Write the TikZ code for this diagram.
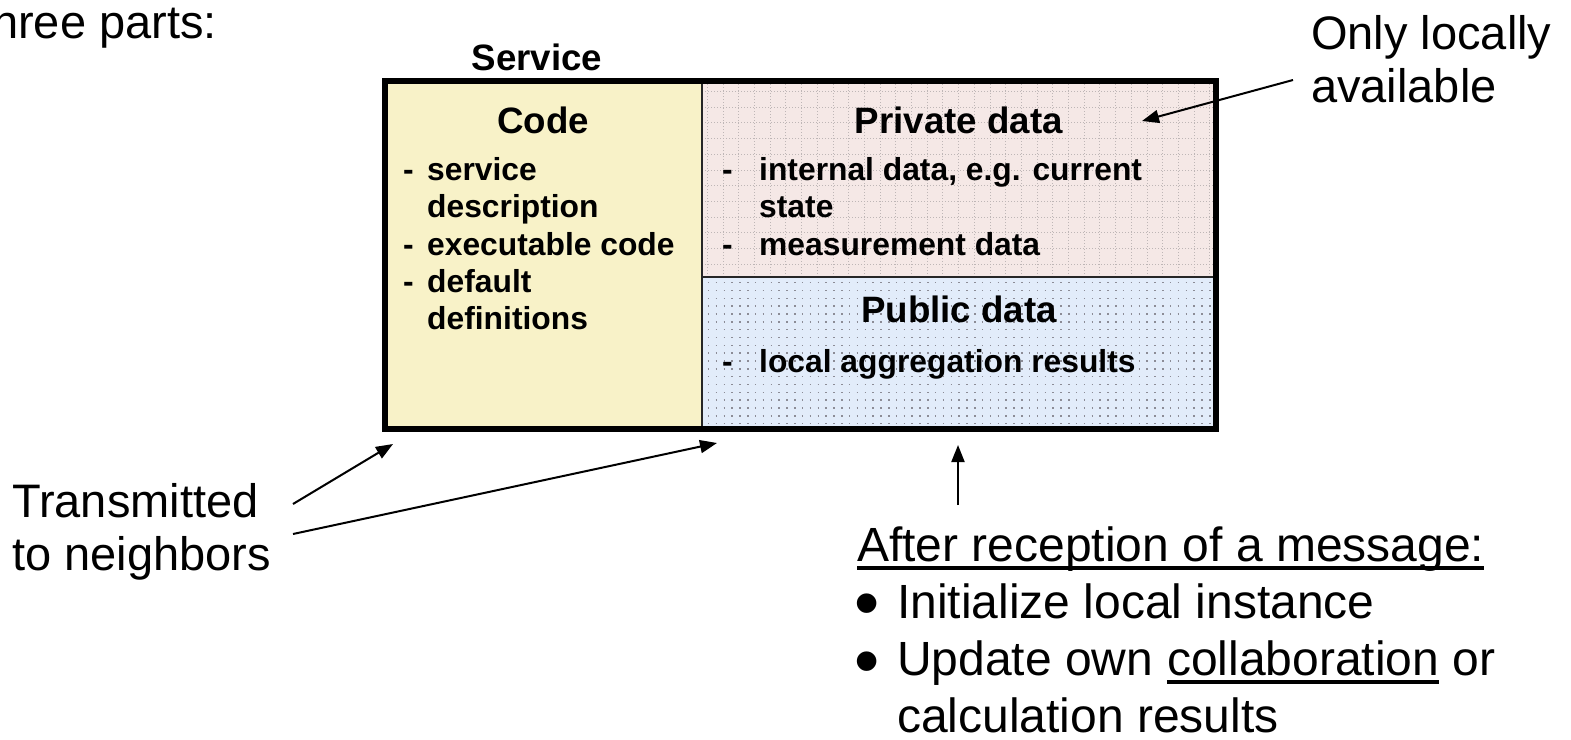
\documentclass[tikz,border=0pt]{standalone}
\usepackage{fontspec}
\setmainfont{Liberation Sans}
\usetikzlibrary{arrows.meta}

\definecolor{codeyellow}{RGB}{248,242,200}
\definecolor{privpink}{RGB}{245,232,230}
\definecolor{pubblue}{RGB}{226,236,250}
\definecolor{gridgray}{RGB}{190,182,182}
\definecolor{dotgray}{RGB}{140,140,150}

\tikzset{
  lbl/.style={inner sep=0pt, anchor=base west, font=\fontsize{47}{56}\selectfont},
  big/.style={inner sep=0pt, anchor=base west, font=\fontsize{48}{57}\selectfont},
  ttl/.style={inner sep=0pt, anchor=base, font=\bfseries\fontsize{36.7}{44}\selectfont},
  itm/.style={inner sep=0pt, anchor=base west, font=\bfseries\fontsize{31.8}{38}\selectfont},
  bul/.style={inner sep=0pt, font=\fontsize{72}{72}\selectfont},
  part/.style={inner sep=0pt, outer sep=0pt, anchor=north west},
  gridln/.style={draw=gridgray, line width=0.9pt, dash pattern=on 1pt off 2pt},
  dotrow/.style={draw=dotgray, line width=1.5pt, dash pattern=on 1.5pt off 6.33pt},
  arr/.style={line width=2pt, -{Triangle[length=17pt,width=13pt]}},
  uline/.style={line width=3.5pt}
}

\begin{document}
\begin{tikzpicture}[x=1pt, y=-1pt]
\useasboundingbox (0,0) rectangle (1571,739);

% heading fragment
\node[lbl] (hree) at (-8,38) {hree parts:};

% the three compartments of a service
\node[part, fill=codeyellow, minimum width=317pt, minimum height=347.5pt] (code) at (385,81) {};
\node[part, fill=privpink, minimum width=514pt, minimum height=196pt] (priv) at (702,81) {};
\node[part, fill=pubblue, minimum width=514pt, minimum height=151.5pt] (pub) at (702,277) {};

% dotted grid on the private part
\begin{scope}
  \clip (priv.north west) rectangle (priv.south east);
  \foreach \i in {0,...,33}
    \draw[gridln] ({707.4+15.7*\i},81) -- ++(0,196);
  \foreach \j in {0,...,12}
    \draw[gridln] (702,{91.5+15.7*\j}) -- ++(514,0);
\end{scope}

% dot raster on the public part
\begin{scope}
  \clip (pub.north west) rectangle (pub.south east);
  \foreach \j in {0,...,18}
    \draw[dotrow] (707.9,{282.7+7.83*\j}) -- ++(508,0);
\end{scope}

% dividers and outer frame
\draw[line width=2pt, black!85] (code.north east) -- (code.south east);
\draw[line width=2pt, black!85] (pub.north west) -- (pub.north east);
\draw[line width=6pt] (385,81) rectangle (1216,428.5);

% box texts
\node[ttl] (svc) at (537,70) {Service};
\node[ttl] (codet) at (543,133) {Code};
\node[itm] (cd1) at (403,180) {-};
\node[itm] (ct1) at (427,180) {service};
\node[itm] (ct1b) at (427,217) {description};
\node[itm] (cd2) at (403,255) {-};
\node[itm] (ct2) at (427,255) {executable code};
\node[itm] (cd3) at (403,292) {-};
\node[itm] (ct3) at (427,292) {default};
\node[itm] (ct3b) at (427,329) {definitions};

\node[ttl] (privt) at (959,133) {Private data};
\node[itm] (pd1) at (722,180) {-};
\node[itm] (pt1) at (759,180) {internal data, e.g. current};
\node[itm] (pt1b) at (759,217) {state};
\node[itm] (pd2) at (722,255) {-};
\node[itm] (pt2) at (759,255) {measurement data};

\node[ttl] (pubt) at (959,322) {Public data};
\node[itm] (ud1) at (722,372) {-};
\node[itm] (ut1) at (759,372) {local aggregation results};

% annotations
\node[lbl] (only1) at (1311,49) {Only locally};
\node[lbl] (only2) at (1311,102) {available};

\node[lbl] (trans1) at (12,517) {Transmitted};
\node[lbl] (trans2) at (12,570) {to neighbors};

\node[big] (after) at (857,561) {After reception of a message:};
\draw[uline] ([yshift=-7pt]after.base west) -- ([yshift=-7pt]after.base east);
\node[bul] (b1) at (867,610.5) {•};
\node[big] (init) at (897,618) {Initialize local instance};
\node[bul] (b2) at (867,668.5) {•};
\node[big] (upd1) at (897,675) {Update own};
\node[big] (upd2) at ([xshift=13.3pt]upd1.base east) {collaboration};
\node[big] (upd3) at ([xshift=13.3pt]upd2.base east) {or};
\draw[uline] ([yshift=-7pt]upd2.base west) -- ([yshift=-7pt]upd2.base east);
\node[big] (calc) at (897,732) {calculation results};

% connectors
\coordinate (t1s) at (293,504);
\coordinate (t1e) at (393,444);
\coordinate (t2s) at (293,534);
\coordinate (t2e) at (717,443);
\coordinate (o1s) at (1293,80);
\coordinate (o1e) at (1142,121);
\coordinate (r1s) at (958,505);
\coordinate (r1e) at (958,445);
\draw[arr] (t1s) -- (t1e);
\draw[arr] (t2s) -- (t2e);
\draw[arr] (o1s) -- (o1e);
\draw[arr] (r1s) -- (r1e);
\end{tikzpicture}
\end{document}
